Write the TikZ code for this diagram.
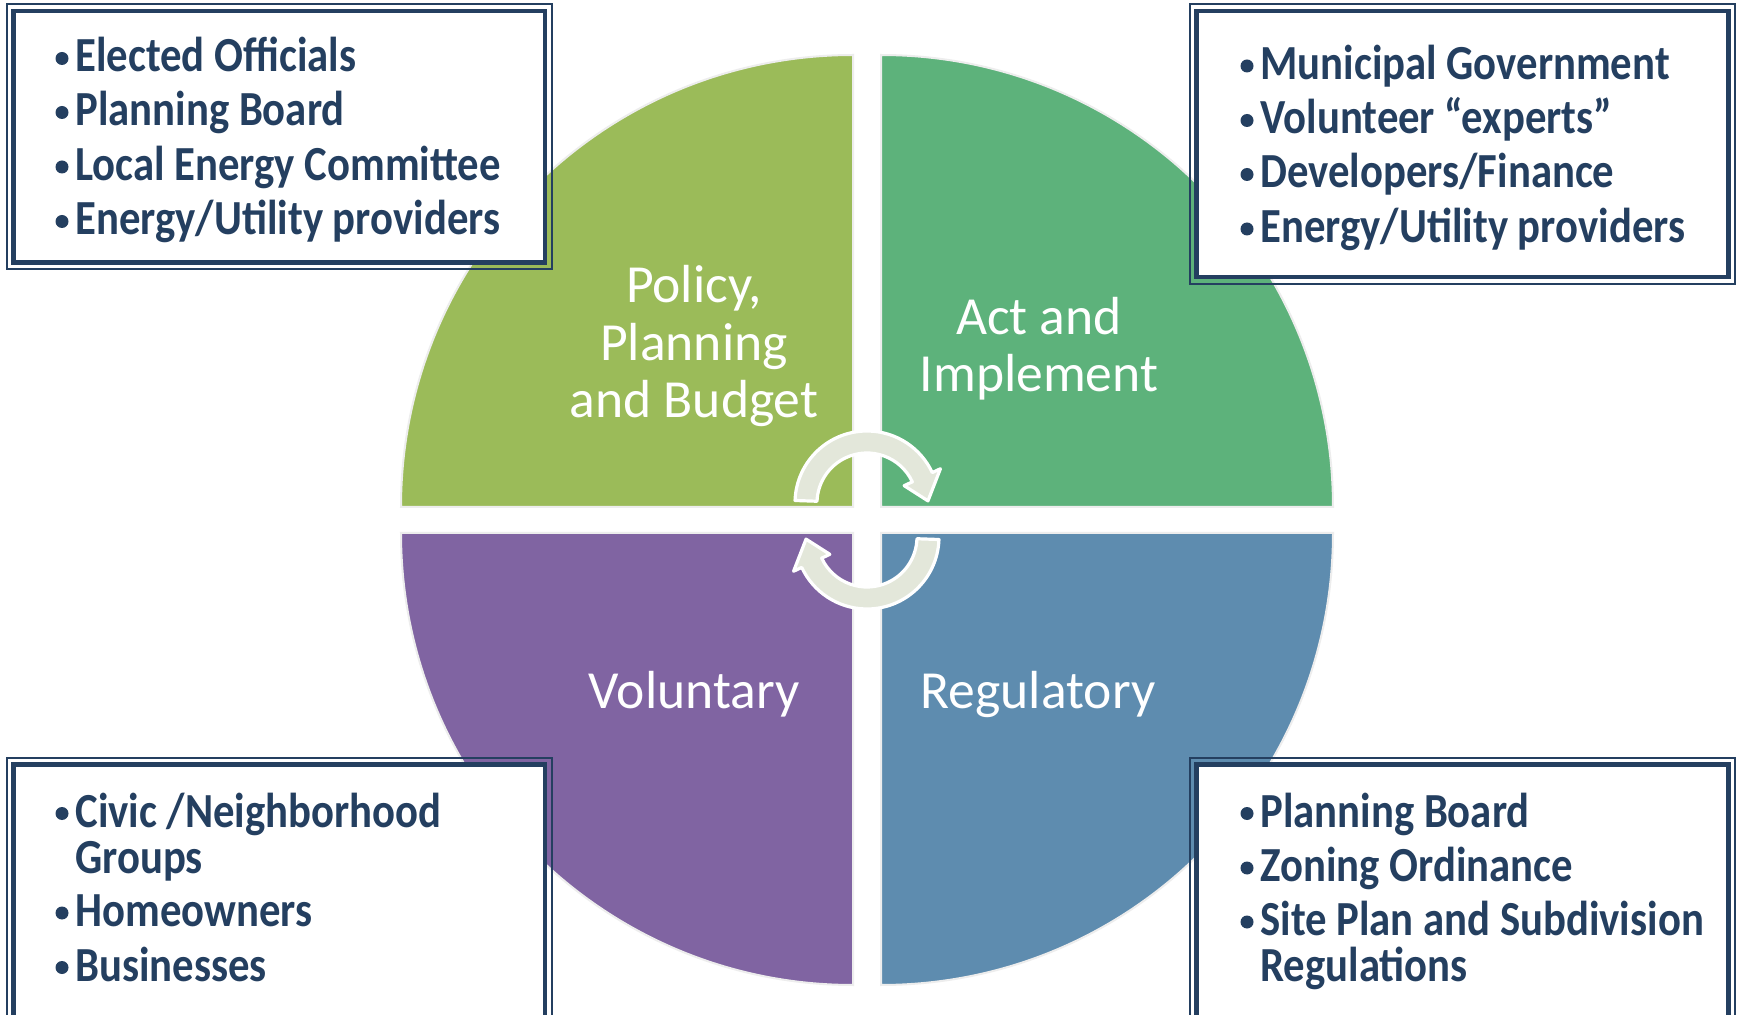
\documentclass[tikz,border=0pt]{standalone}
\usepackage{fontspec}
\setmainfont{Carlito}
\newfontfamily\boxfont[FakeStretch=0.872]{Carlito}
\definecolor{qolive}{HTML}{9BBB59}
\definecolor{qgreen}{HTML}{5DB27B}
\definecolor{qpurple}{HTML}{8064A2}
\definecolor{qblue}{HTML}{5E8CAF}
\definecolor{navy}{HTML}{243F60}
\definecolor{arrowfill}{HTML}{E3E7DA}
\begin{document}
\begin{tikzpicture}[x=0.5pt,y=0.5pt,
  quad/.style={draw=white!93!black, line width=1pt},
  cyclearrow/.style={fill=arrowfill, draw=white, line width=1.6pt, line join=round},
  quadtxt/.style={anchor=base, inner sep=0, text=white, font=\fontsize{26.8}{29}\selectfont},
  frame/.style={draw=navy, line width=2.25pt, fill=white, inner sep=0, minimum width=266pt},
  thinframe/.style={draw=navy, line width=1pt},
  boxtxt/.style={anchor=base west, inner sep=0, text=navy, font=\boxfont\bfseries\fontsize{24.5}{28}\selectfont},
  dot/.style={fill=navy}]
\clip (0,0) rectangle (1737,1014);
\fill[white] (0,0) rectangle (1737,1014);

% quadrants
\filldraw[quad, fill=qolive] (853,507) -- (401,507) arc[start angle=180, end angle=90, radius=452] -- cycle;
\filldraw[quad, fill=qgreen] (881,507) -- (881,959) arc[start angle=90, end angle=0, radius=452] -- cycle;
\filldraw[quad, fill=qpurple] (853,481) -- (401,481) arc[start angle=180, end angle=270, radius=452] -- cycle;
\filldraw[quad, fill=qblue] (881,481) -- (1333,481) arc[start angle=0, end angle=-90, radius=452] -- cycle;

% quadrant labels
\node[quadtxt] (pol1) at (694,711) {Policy,};
\node[quadtxt] (pol2) at (694,653) {Planning};
\node[quadtxt] (pol3) at (694,596) {and Budget};
\node[quadtxt] (act1) at (1039,679) {Act and};
\node[quadtxt] (act2) at (1039,622) {Implement};
\node[quadtxt] (vol) at (694,306) {Voluntary};
\node[quadtxt] (reg) at (1038,306) {Regulatory};

% cycle arrows
\draw[cyclearrow, shift={(867,511)}] (178:72) arc[start angle=178, end angle=25, radius=72]
  -- (25:81) -- (2:61) -- (25:41) -- (25:50) arc[start angle=25, end angle=178, radius=50] -- cycle;
\draw[cyclearrow, shift={(867,477)}] (-2:72) arc[start angle=-2, end angle=-155, radius=72]
  -- (205:81) -- (182:61) -- (205:41) -- (205:50) arc[start angle=-155, end angle=-2, radius=50] -- cycle;

% boxes
\node[frame, minimum width=265.9pt, minimum height=125.75pt] (tlbox) at (279.2,877.25) {};
\draw[thinframe] ([shift={(-4.5,-4.5)}]tlbox.south west) rectangle ([shift={(4.5,4.5)}]tlbox.north east);
\node[frame, minimum width=266pt, minimum height=133pt] (trbox) at (1462.5,870) {};
\draw[thinframe] ([shift={(-4.5,-4.5)}]trbox.south west) rectangle ([shift={(4.5,4.5)}]trbox.north east);
\node[frame, minimum width=265.9pt, minimum height=139.75pt] (blbox) at (279.2,109.75) {};
\draw[thinframe] ([shift={(-4.5,-4.5)}]blbox.south west) rectangle ([shift={(4.5,4.5)}]blbox.north east);
\node[frame, minimum width=266pt, minimum height=139.75pt] (brbox) at (1462.5,109.75) {};
\draw[thinframe] ([shift={(-4.5,-4.5)}]brbox.south west) rectangle ([shift={(4.5,4.5)}]brbox.north east);

% top-left list
\node[boxtxt] (tl1) at (75,942) {Elected Officials};
\node[boxtxt] (tl2) at (75,888) {Planning Board};
\node[boxtxt] (tl3) at (75,833.5) {Local Energy Committee};
\node[boxtxt] (tl4) at (75,779) {Energy/Utility providers};
\foreach \y in {942,888,833.5,779} \fill[dot] (62,\y+13.5) circle[radius=6.5];

% top-right list
\node[boxtxt] (tr1) at (1260,934.5) {Municipal Government};
\node[boxtxt] (tr2) at (1260,880) {Volunteer “experts”};
\node[boxtxt] (tr3) at (1260,826) {Developers/Finance};
\node[boxtxt] (tr4) at (1260,771.5) {Energy/Utility providers};
\foreach \y in {934.5,880,826,771.5} \fill[dot] (1247,\y+13.5) circle[radius=6.5];

% bottom-left list
\node[boxtxt] (bl1) at (75,187) {Civic /Neighborhood};
\node[boxtxt] (bl1b) at (75,140.5) {Groups};
\node[boxtxt] (bl2) at (75,87.5) {Homeowners};
\node[boxtxt] (bl3) at (75,33) {Businesses};
\foreach \y in {187,87.5,33} \fill[dot] (62,\y+13.5) circle[radius=6.5];

% bottom-right list
\node[boxtxt] (br1) at (1260,187) {Planning Board};
\node[boxtxt] (br2) at (1260,132.5) {Zoning Ordinance};
\node[boxtxt] (br3) at (1260,78.5) {Site Plan and Subdivision};
\node[boxtxt] (br3b) at (1260,33) {Regulations};
\foreach \y in {187,132.5,78.5} \fill[dot] (1247,\y+13.5) circle[radius=6.5];
\end{tikzpicture}
\end{document}
